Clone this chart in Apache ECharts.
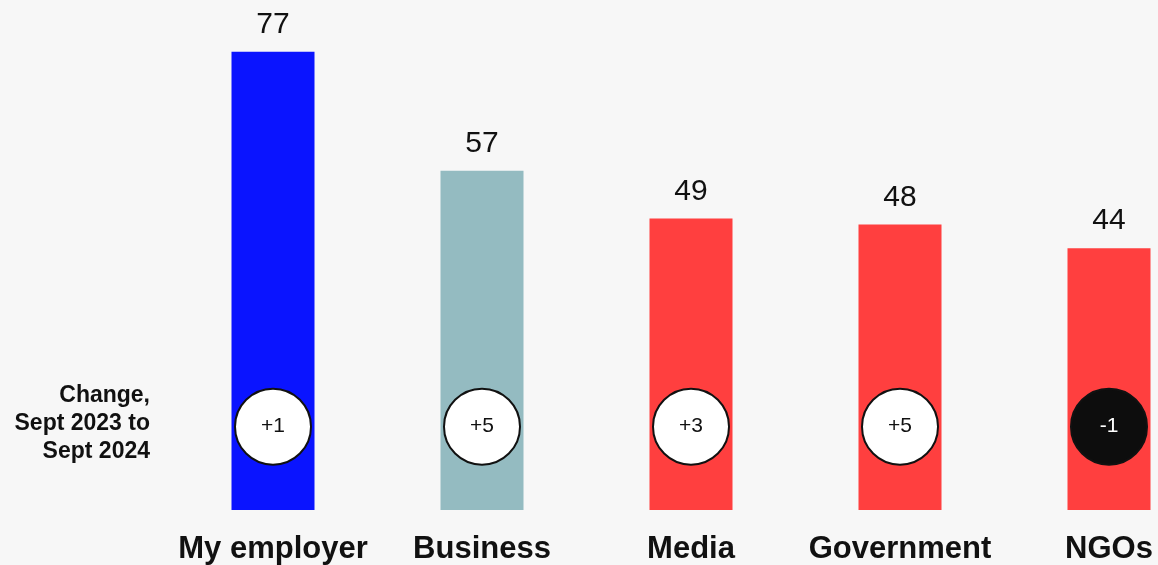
<!DOCTYPE html>
<html>
<head>
<meta charset="utf-8">
<script src="https://cdn.jsdelivr.net/npm/echarts@6/dist/echarts.min.js"></script>
<style>
  html, body { margin: 0; padding: 0; background: #f7f7f7; }
  #chart { width: 1158px; height: 565px; }
</style>
</head>
<body>
<div id="chart"></div>
<script>
// Trust index by institution, with the change since the previous wave
const categories = ['My employer', 'Business', 'Media', 'Government', 'NGOs'];
const trustValues = [77, 57, 49, 48, 44];
const changeValues = [1, 5, 3, 5, -1];
const barColors = ['#0a14ff', '#94bbc1', '#ff3f3f', '#ff3f3f', '#ff3f3f'];
const changeTitle = ['Change,', 'Sept 2023 to', 'Sept 2024'];

// vertical level (in value units) where the change badges sit
const BADGE_LEVEL = 14;

const FONT = 'Liberation Sans, Arial, Helvetica, sans-serif';

const chart = echarts.init(document.getElementById('chart'), null, { renderer: 'canvas' });

const badgeData = changeValues.map((v, i) => ({
  value: [categories[i], BADGE_LEVEL],
  change: v,
  itemStyle: {
    color: v < 0 ? '#0d0d0d' : '#ffffff',
    borderColor: '#111111',
    borderWidth: 2,
    opacity: 1
  },
  label: { color: v < 0 ? '#ffffff' : '#111111' }
}));

chart.setOption({
  backgroundColor: '#f7f7f7',
  animation: false,
  grid: {
    left: 168.5,
    width: 1045,
    top: 34,
    bottom: 55,
    containLabel: false,
    outerBoundsMode: 'none'
  },
  xAxis: {
    type: 'category',
    data: categories,
    axisLine: { show: false },
    axisTick: { show: false },
    axisLabel: {
      interval: 0,
      margin: 24,
      fontFamily: FONT,
      fontSize: 31,
      fontWeight: 'bold',
      color: '#111111'
    }
  },
  yAxis: {
    type: 'value',
    min: 0,
    max: 80,
    show: false,
    splitLine: { show: false }
  },
  series: [
    {
      type: 'bar',
      data: trustValues.map((v, i) => ({ value: v, itemStyle: { color: barColors[i] } })),
      barWidth: 83,
      label: {
        show: true,
        position: 'top',
        distance: 12,
        fontFamily: FONT,
        fontSize: 30,
        color: '#111111'
      }
    },
    {
      type: 'scatter',
      data: badgeData,
      symbol: 'circle',
      symbolSize: 76,
      z: 5,
      itemStyle: { opacity: 1 },
      label: {
        show: true,
        position: 'inside',
        fontFamily: FONT,
        fontSize: 21,
        formatter: p => (p.data.change > 0 ? '+' : '') + p.data.change
      }
    }
  ],
  graphic: [
    {
      type: 'text',
      x: 150,
      y: 424,
      style: {
        text: changeTitle.join('\n'),
        fontFamily: FONT,
        fontSize: 23,
        fontWeight: 'bold',
        lineHeight: 28,
        fill: '#111111',
        align: 'right',
        verticalAlign: 'middle'
      }
    }
  ]
});
</script>
</body>
</html>
